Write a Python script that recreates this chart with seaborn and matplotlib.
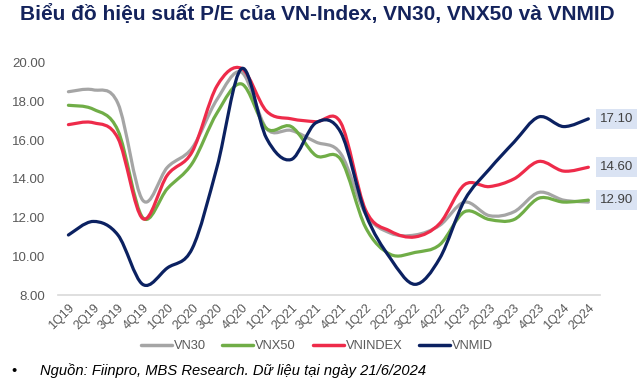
import numpy as np
import pandas as pd
import matplotlib
matplotlib.use("Agg")
import matplotlib.pyplot as plt
import seaborn as sns
from matplotlib.path import Path
from matplotlib.patches import PathPatch
from matplotlib.lines import Line2D

quarters = ["1Q19", "2Q19", "3Q19", "4Q19", "1Q20", "2Q20", "3Q20", "4Q20",
            "1Q21", "2Q21", "3Q21", "4Q21", "1Q22", "2Q22", "3Q22", "4Q22",
            "1Q23", "2Q23", "3Q23", "4Q23", "1Q24", "2Q24"]
vn30 = [18.5, 18.6, 17.9, 12.9, 14.6, 15.6, 18.1, 19.5, 16.6, 16.5, 15.9, 15.3,
        12.2, 11.2, 11.1, 11.6, 12.8, 12.1, 12.3, 13.3, 12.9, 12.8]
vnx50 = [17.8, 17.6, 16.5, 12.0, 13.5, 14.8, 17.4, 18.9, 16.6, 16.7, 15.2, 15.0,
         11.5, 10.1, 10.2, 10.6, 12.3, 11.9, 11.9, 13.0, 12.8, 12.9]
vnindex = [16.8, 16.9, 16.1, 11.95, 14.2, 15.4, 18.8, 19.7, 17.5, 17.1, 16.95, 16.9,
           12.4, 11.3, 11.0, 11.7, 13.7, 13.6, 14.0, 14.9, 14.4, 14.6]
vnmid = [11.1, 11.8, 11.1, 8.55, 9.4, 10.4, 14.6, 19.7, 16.1, 15.0, 16.9, 16.4,
         12.2, 9.9, 8.55, 9.9, 12.9, 14.5, 15.9, 17.2, 16.7, 17.1]
end_labels = ["12.90", "14.60", "17.10"]
end_values = [12.9, 14.6, 17.1]

series_names = ["VN30", "VNX50", "VNINDEX", "VNMID"]
colors = ["#A5A5A5", "#70AD47", "#EE2B4A", "#0B2161"]

sns.set_theme(style="white")
plt.rcParams['font.family'] = ['Liberation Sans', 'DejaVu Sans']

df = pd.DataFrame({"quarter": quarters, "VN30": vn30, "VNX50": vnx50,
                   "VNINDEX": vnindex, "VNMID": vnmid})

W, H = 640, 381
fig = plt.figure(figsize=(6.4, 3.81), dpi=100)
ax = fig.add_axes([58 / W, 1 - 295 / H, 542 / W, (295 - 62.7) / H])


def smooth_path(xs, ys):
    pts = np.column_stack([xs, ys]).astype(float)
    n = len(pts)
    verts = [pts[0]]
    codes = [Path.MOVETO]
    for i in range(n - 1):
        p0 = pts[i - 1] if i > 0 else pts[i]
        p1 = pts[i]
        p2 = pts[i + 1]
        p3 = pts[i + 2] if i + 2 < n else pts[i + 1]
        c1 = p1 + (p2 - p0) / 6.0
        c2 = p2 - (p3 - p1) / 6.0
        verts += [c1, c2, p2]
        codes += [Path.CURVE4] * 3
    return Path(verts, codes)


xs = np.arange(len(quarters))
for name, col in zip(series_names, colors):
    p = smooth_path(xs, df[name].values)
    ax.add_patch(PathPatch(p, fill=False, edgecolor=col, lw=2.3,
                           capstyle='round', joinstyle='round'))

ax.set_xlim(-0.42, 21.47)
ax.set_ylim(8, 20)
ax.set_yticks(np.arange(8, 21, 2))
ax.set_yticklabels([f"{v:.2f}" for v in np.arange(8, 21, 2)])
ax.set_xticks(xs)
ax.set_xticklabels(quarters, rotation=45, ha='right', va='top',
                   rotation_mode='anchor')
ax.tick_params(axis='y', length=0, pad=9, labelsize=9.5, labelcolor='#595959')
ax.tick_params(axis='x', length=0, pad=5, labelsize=9, labelcolor='#595959')
sns.despine(ax=ax, left=True, top=True, right=True)
ax.spines['bottom'].set_color('#D9D9D9')
ax.spines['bottom'].set_linewidth(1.2)
ax.grid(False)
ax.set_xlabel("")
ax.set_ylabel("")

# end-value boxes
for lbl, v in zip(end_labels, end_values):
    ax.text((616.5 - 58) / 542, v, lbl, transform=ax.get_yaxis_transform(),
            ha='center', va='center', fontsize=9.5, color='#404040',
            bbox=dict(boxstyle='square,pad=0.32', fc='#DAE3F3', ec='none'),
            clip_on=False)

handles = [Line2D([0], [0], color=c, lw=2.5) for c in colors]
leg = fig.legend(handles, series_names, loc='center',
                 bbox_to_anchor=(317 / W, 1 - 346 / H), ncol=4, frameon=False,
                 fontsize=9.3, handlelength=2.4, handletextpad=0.15,
                 columnspacing=1.3)
for t in leg.get_texts():
    t.set_color('#595959')

fig.text(20 / W, 1 - 14 / H, "Biểu đồ hiệu suất P/E của VN-Index, VN30, VNX50 và VNMID",
         ha='left', va='center', fontsize=15, fontweight='bold', color='#14235C')
fig.text(11 / W, 1 - 371 / H, "•", ha='left', va='center', fontsize=10.5, color='black')
fig.text(40 / W, 1 - 371 / H, "Nguồn: Fiinpro, MBS Research. Dữ liệu tại ngày 21/6/2024",
         ha='left', va='center', fontsize=10.6, style='italic', color='black')

fig.savefig("out.png", dpi=100)
